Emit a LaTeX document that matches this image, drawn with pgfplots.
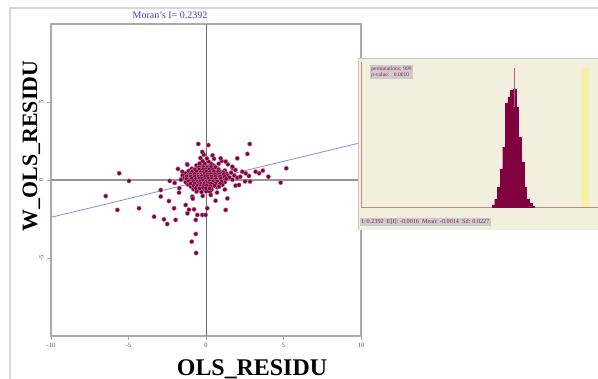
\documentclass[border=0pt]{standalone}
\usepackage{fontspec}
\setmainfont{Liberation Serif}
\usepackage{pgfplots}
\pgfplotsset{compat=1.18}
\definecolor{maroon}{RGB}{128,0,64}
\definecolor{beige}{RGB}{243,239,222}
\definecolor{framegray}{RGB}{215,215,215}
\definecolor{axgray}{RGB}{170,170,170}
\definecolor{zerogray}{RGB}{110,110,110}
\definecolor{zerogray2}{RGB}{150,150,150}
\definecolor{regblue}{RGB}{130,140,235}
\definecolor{titleblue}{RGB}{60,60,220}
\definecolor{histaxis}{RGB}{190,140,140}
\definecolor{ylw}{RGB}{245,242,165}
\definecolor{boxgray}{RGB}{208,202,205}
\definecolor{boxtext}{RGB}{130,40,90}
\begin{document}
\begin{tikzpicture}
\path[use as bounding box] (0,0) rectangle (598bp,379bp);
\draw[framegray, line width=1.5bp] (10bp,0) -- (10bp,371bp) -- (598bp,371bp);
\node[font=\fontsize{10}{10}\selectfont, text=titleblue] at (170bp,364bp) {Moran's I= 0.2392};
\begin{axis}[at={(51bp,43bp)}, anchor=south west, width=310bp, height=312bp, scale only axis,
  xmin=-10, xmax=10, ymin=-10, ymax=10,
  axis line style={draw=axgray, line width=1.5bp},
  xtick={-10,-5,0,5,10}, ytick={-5,0,5},
  xtick pos=bottom, ytick pos=left,
  tick style={draw=axgray, line width=0.6bp}, tick align=outside, major tick length=4bp,
  ticklabel style={font=\fontsize{6.5}{6.5}\selectfont, text=black!70},
  yticklabel style={rotate=90, anchor=south},
  /pgf/number format/assume math mode=true, clip=false]
\draw[zerogray2, line width=2.2bp] (axis cs:-10,0) -- (axis cs:10,0);
\draw[zerogray, line width=1bp] (axis cs:0,-10) -- (axis cs:0,10);
\addplot[regblue, line width=0.8bp] coordinates {(-10,-2.392) (10,2.392)};
\addplot[only marks, mark=*, mark size=2.2bp, color=maroon, mark options={draw=maroon!50!white, line width=0.4bp, fill=maroon}] coordinates {
(-0.62,0.93) (-0.28,0.88) (-0.04,0.95) (0.22,0.87) (0.48,0.92)
(-0.92,0.73) (-0.56,0.78) (-0.33,0.71) (-0.12,0.77) (0.11,0.72) (0.36,0.79) (0.72,0.74)
(-1.12,0.58) (-0.79,0.63) (-0.52,0.57) (-0.29,0.62) (-0.09,0.56) (0.06,0.64) (0.31,0.58) (0.57,0.62) (0.88,0.57) (1.22,0.61)
(-1.31,0.43) (-0.96,0.48) (-0.71,0.42) (-0.44,0.47) (-0.24,0.43) (-0.06,0.48) (0.16,0.42) (0.41,0.47) (0.66,0.43) (0.97,0.46) (1.32,0.42) (1.62,0.47)
(-1.52,0.28) (-1.14,0.33) (-0.86,0.27) (-0.61,0.32) (-0.39,0.28) (-0.21,0.33) (0.01,0.27) (0.21,0.32) (0.46,0.28) (0.71,0.33) (1.02,0.27) (1.36,0.31) (1.82,0.29)
(-1.41,0.13) (-1.06,0.17) (-0.79,0.12) (-0.56,0.16) (-0.34,0.13) (-0.16,0.17) (0.06,0.12) (0.26,0.16) (0.51,0.13) (0.79,0.17) (1.11,0.12) (1.52,0.16) (2.02,0.14)
(-1.62,0.02) (-1.21,-0.03) (-0.91,0.01) (-0.66,-0.02) (-0.44,0.03) (-0.26,-0.01) (-0.04,0.02) (0.16,-0.03) (0.36,0.01) (0.61,-0.02) (0.91,0.03) (1.26,-0.01) (1.71,0.02)
(-1.31,-0.14) (-1.01,-0.17) (-0.76,-0.13) (-0.51,-0.16) (-0.31,-0.12) (-0.11,-0.17) (0.11,-0.13) (0.31,-0.16) (0.56,-0.12) (0.86,-0.17) (1.21,-0.14)
(-1.16,-0.29) (-0.86,-0.32) (-0.61,-0.28) (-0.41,-0.33) (-0.19,-0.27) (0.01,-0.31) (0.21,-0.29) (0.46,-0.32) (0.76,-0.28) (1.06,-0.31)
(-0.96,-0.44) (-0.66,-0.47) (-0.46,-0.43) (-0.26,-0.46) (-0.04,-0.44) (0.16,-0.47) (0.41,-0.43) (0.71,-0.46)
(-0.81,-0.59) (-0.51,-0.62) (-0.31,-0.58) (-0.09,-0.61) (0.11,-0.57) (0.36,-0.62)
(-0.61,-0.74) (-0.29,-0.77) (0.02,-0.73) (0.26,-0.76)
(-0.41,1.06) (-0.09,1.03) (0.31,1.07) (0.82,1.04)
(-0.21,1.21) (0.16,1.18) (1.01,1.22)
(-0.36,1.41) (0.06,1.38)
(-0.14,1.62) (0.42,1.58)
(-0.45,0.82) (-0.17,0.83) (0.08,0.81) (0.32,0.84) (0.6,0.82)
(-0.72,0.67) (-0.45,0.68) (-0.2,0.66) (0.0,0.69) (0.2,0.67) (0.45,0.66) (0.8,0.68)
(-0.9,0.52) (-0.6,0.53) (-0.35,0.51) (-0.15,0.52) (0.03,0.54) (0.25,0.51) (0.5,0.53) (0.78,0.52) (1.1,0.5)
(-1.0,0.37) (-0.75,0.38) (-0.5,0.36) (-0.3,0.37) (-0.1,0.39) (0.1,0.36) (0.32,0.38) (0.58,0.37) (0.85,0.36) (1.15,0.38)
(-1.25,0.22) (-0.98,0.23) (-0.72,0.21) (-0.48,0.22) (-0.28,0.24) (-0.08,0.21) (0.12,0.23) (0.35,0.22) (0.6,0.21) (0.9,0.23) (1.2,0.22)
(-1.25,0.07) (-0.92,0.08) (-0.68,0.06) (-0.45,0.07) (-0.25,0.09) (-0.05,0.06) (0.15,0.08) (0.38,0.07) (0.65,0.06) (0.95,0.08) (1.3,0.07)
(-1.1,-0.08) (-0.82,-0.07) (-0.58,-0.09) (-0.38,-0.08) (-0.18,-0.06) (0.02,-0.09) (0.22,-0.07) (0.45,-0.08) (0.72,-0.09) (1.0,-0.07)
(-1.0,-0.23) (-0.72,-0.22) (-0.5,-0.24) (-0.3,-0.23) (-0.1,-0.21) (0.1,-0.24) (0.32,-0.22) (0.6,-0.23) (0.9,-0.24)
(-0.8,-0.38) (-0.55,-0.37) (-0.35,-0.39) (-0.15,-0.38) (0.05,-0.36) (0.28,-0.39) (0.55,-0.37)
(-0.65,-0.52) (-0.4,-0.53) (-0.2,-0.51) (0.0,-0.52) (0.22,-0.53)
(1.41,1.01) (1.72,0.76) (2.21,0.21) (2.52,-0.09) (1.91,-0.36) (-1.81,0.71) (-2.02,-0.19) (-1.72,-0.52) (0.52,1.36) (1.22,-0.61) (-0.21,-1.02) (0.31,-0.96) (-1.22,1.02) (0.71,-0.81)
(0.95,1.39) (1.27,1.18) (1.7,0.85) (1.9,0.64) (2.56,0.43)
(-5.6,0.43) (-4.97,-0.06) (-6.47,-1.03) (-5.72,-1.92) (-4.32,-1.81) (-3.35,-2.35) (-2.71,-2.52) (-2.5,-2.82) (-1.96,-2.56)
(-2.92,-0.64) (-2.92,-1.06) (-2.39,-1.35) (-2.06,-1.81) (-2.34,-0.06) (-1.74,-0.81) (-1.31,-1.6) (-1.2,-2.14) (-1.1,-1.9)
(-0.77,-1.88) (-0.56,-2.24) (-0.24,-2.24) (-0.02,-2.24) (0.08,-1.81) (-0.66,-2.56) (-0.66,-3.46) (-0.92,-3.95) (-0.64,-4.68)
(-0.88,-1.07) (-0.85,-1.2) (0.62,-1.33) (1.27,-1.92) (1.38,-1.18) (0.84,-0.43) (2.13,-0.32)
(4.82,-0.17) (5.18,0.75) (4.02,0.21) (3.42,0.43) (3.2,0.53) (3.67,0.6) (2.77,0.26) (2.84,-0.1) (2.34,0.53)
(2.02,1.39) (2.67,1.67) (2.82,2.31) (0.15,2.24) (-0.5,2.31) (-0.24,1.8) (-1.53,0.53) (-1.2,0.98)
};
\end{axis}
\node[anchor=base, font=\fontsize{24}{24}\selectfont\bfseries] at (252bp,4bp) {OLS\_RESIDU};
\node[anchor=base, rotate=90, font=\fontsize{22}{22}\selectfont\bfseries] at (37bp,233bp) {W\_OLS\_RESIDU};
% histogram panel
\fill[beige] (358bp,149bp) rectangle (598bp,321bp);
\draw[beige!85!black, line width=0.4bp] (358bp,149bp) -- (358bp,321bp) -- (598bp,321bp);
\begin{axis}[at={(361bp,172bp)}, anchor=south west, width=237bp, height=145bp, scale only axis,
  xmin=-0.52, xmax=0.283, ymin=0, ymax=145, axis lines=none, clip=false]
\draw[histaxis, line width=0.6bp] (axis cs:-0.52,145) -- (axis cs:-0.52,0) -- (axis cs:0.283,0);
\addplot[ylw, line width=8bp] coordinates {(0.2392,0) (0.2392,139)};
\addplot[ybar interval, fill=maroon, draw=maroon, line width=0.3bp] coordinates {
(-0.076,2) (-0.067,8) (-0.058,20) (-0.049,38) (-0.040,60) (-0.031,104) (-0.022,110) (-0.013,117)
(-0.004,118) (0.005,100) (0.014,70) (0.023,45) (0.032,20) (0.041,8) (0.050,4) (0.059,1) (0.068,0)
};
\addplot[maroon!60!white, line width=0.6bp] coordinates {(-0.0016,100) (-0.0016,139)};
\end{axis}
\node[anchor=north west, fill=boxgray, inner sep=1.2bp, align=left, text=boxtext, font=\fontsize{5.5}{6.5}\selectfont] at (370bp,314bp) {permutations: 999\\p-value: \ \ 0.0010};
\node[anchor=west, fill=boxgray, inner sep=1.2bp, text=boxtext, font=\fontsize{6.2}{6.5}\selectfont] at (360bp,157bp) {I: 0.2392 \ E[I]: -0.0016 \ Mean: -0.0014 \ Sd: 0.0227};
\end{tikzpicture}
\end{document}
